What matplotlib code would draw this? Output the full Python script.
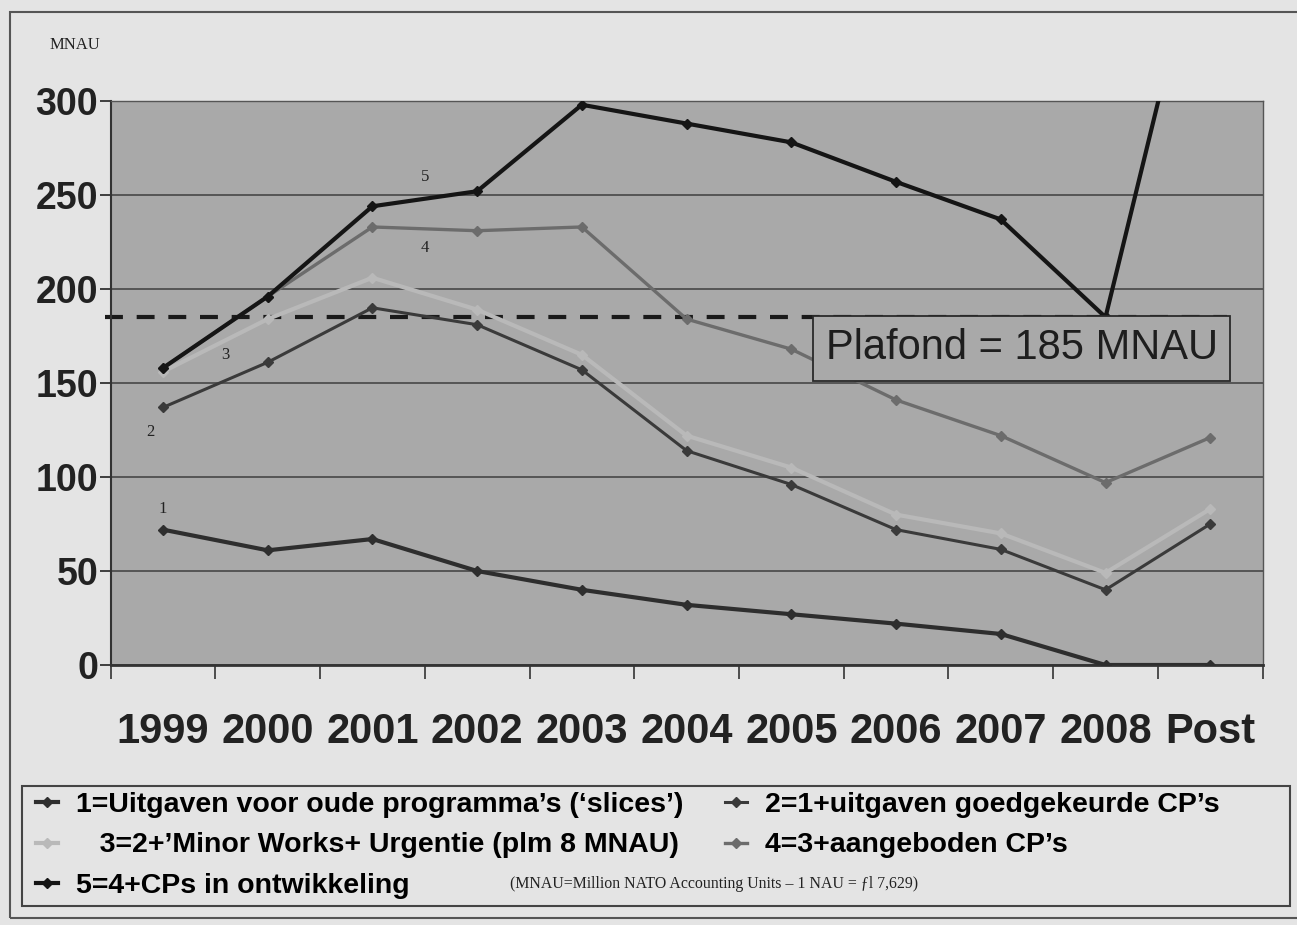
import matplotlib
matplotlib.use('Agg')
import matplotlib.pyplot as plt
from matplotlib.patches import Rectangle
import numpy as np

years = ['1999', '2000', '2001', '2002', '2003', '2004', '2005', '2006', '2007', '2008', 'Post']
s1 = [72, 61, 67, 50, 40, 32, 27, 22, 16.5, 0, 0]
s2 = [137, 161, 190, 181, 157, 114, 96, 72, 61.5, 40, 75]
s3 = [156, 184, 206, 189, 165, 122, 105, 80, 70, 49, 83]
s4 = [158, 196, 233, 231, 233, 184, 168, 141, 122, 97, 121]
s5 = [158, 196, 244, 252, 298, 288, 278, 257, 237, 185, 413]
plafond = 185

names = ["1=Uitgaven voor oude programma\u2019s (\u2018slices\u2019)",
         "2=1+uitgaven goedgekeurde CP\u2019s",
         "   3=2+\u2019Minor Works+ Urgentie (plm 8 MNAU)",
         "4=3+aangeboden CP\u2019s",
         "5=4+CPs in ontwikkeling"]
colors = ['#2e2e2e', '#3a3a3a', '#b9b9b9', '#6c6c6c', '#151515']
widths = [3, 2.2, 3, 2.4, 3]

W, H = 1297, 925
fig = plt.figure(figsize=(W / 100, H / 100), dpi=100, facecolor='#e4e4e4')
ax = fig.add_axes([110.6 / W, 1 - 665 / H, 1152 / W, 564 / H])
ax.set_facecolor('#a9a9a9')

x = np.arange(len(years))
lines = []
for s, c, w, n in zip([s1, s2, s3, s4, s5], colors, widths, names):
    ln, = ax.plot(x, s, color=c, lw=w, marker='D', ms=5, label=n, zorder=3)
    lines.append(ln)

ax.set_xlim(-0.5, len(years) - 0.5)
ax.set_ylim(0, 300)

# plafond
ax.axhline(plafond, xmin=-0.005, xmax=0.969, color='#1a1a1a', lw=3,
           dashes=(4.3, 3.3), clip_on=False, zorder=2)
ax.text(8.2, 168.5, 'Plafond = %d MNAU' % plafond, ha='center', va='center',
        fontsize=30, family='Liberation Sans', color='#1e1e1e', zorder=4,
        bbox=dict(boxstyle='square,pad=0.3', fc='#a9a9a9', ec='#2a2a2a', lw=1.3))

# series numbers
num = dict(fontsize=12, family='Liberation Serif', color='#222', ha='center')
ax.annotate('1', (x[0], s1[0]), xytext=(0, 9), textcoords='offset points', va='bottom', **num)
ax.annotate('2', (x[0], s2[0]), xytext=(-9, -12), textcoords='offset points', va='top', **num)
ax.annotate('3', ((x[0] + x[1]) / 2 + 0.1, (s3[0] + s3[1]) / 2), xytext=(0, -1),
            textcoords='offset points', va='top', **num)
ax.annotate('4', ((x[2] + x[3]) / 2, (s4[2] + s4[3]) / 2), xytext=(0, -8),
            textcoords='offset points', va='top', **num)
ax.annotate('5', ((x[2] + x[3]) / 2, (s5[2] + s5[3]) / 2), xytext=(0, 10),
            textcoords='offset points', va='bottom', **num)

# axes styling
ax.set_yticks(np.arange(0, 301, 50))
ax.yaxis.grid(True, color='#474747', lw=1.2)
ax.set_axisbelow(True)
for lab in ax.get_yticklabels():
    lab.set_fontweight('bold')
    lab.set_family('Liberation Sans')
ax.tick_params(axis='y', length=8, width=1.2, direction='out', pad=1,
               labelsize=27, colors='#222')

ax.set_xticks(x)
ax.set_xticklabels(years, fontweight='bold', family='Liberation Sans')
ax.set_xticks(np.arange(-0.5, len(years), 1), minor=True)
ax.tick_params(axis='x', which='major', length=0, pad=34, labelsize=30, colors='#222')
ax.tick_params(axis='x', which='minor', length=10, width=1.2, direction='out', color='#333')

ax.spines['left'].set_color('#333')
ax.spines['left'].set_linewidth(1.5)
ax.spines['bottom'].set_color('#333')
ax.spines['bottom'].set_linewidth(2)
for sp in ['top', 'right']:
    ax.spines[sp].set_color('#555')
    ax.spines[sp].set_linewidth(1)

fig.text(50 / W, 1 - 45 / H, 'MNAU', family='Liberation Serif', fontsize=12,
         va='center', ha='left', color='#222')

# frames
fig.add_artist(Rectangle((10 / W, 1 - 918 / H), 1.0, 906 / H, transform=fig.transFigure,
                         fill=False, ec='#555', lw=1.5))
fig.add_artist(Rectangle((22 / W, 1 - 906 / H), 1268 / W, 120 / H, transform=fig.transFigure,
                         fill=False, ec='#444', lw=1.5))

# legend
leg_font = dict(family='Liberation Sans', weight='bold', size=20.5)
leg_kw = dict(loc='upper left', frameon=False, prop=leg_font, handlelength=0.8,
              handletextpad=0.6, labelspacing=0.52, borderaxespad=0, borderpad=0.2)
fig.legend([lines[0], lines[2], lines[4]], [names[0], names[2], names[4]],
           bbox_to_anchor=(30 / W, 1 - 786 / H), **leg_kw)
fig.legend([lines[1], lines[3]], [names[1], names[3]],
           bbox_to_anchor=(719 / W, 1 - 786 / H), **leg_kw)
fig.text(510 / W, 1 - 884 / H,
         '(MNAU=Million NATO Accounting Units \u2013 1 NAU = \u0192l 7,629)',
         family='Liberation Serif', fontsize=11.4, va='center', ha='left', color='#222')

fig.savefig('out.png', dpi=100, facecolor=fig.get_facecolor())
